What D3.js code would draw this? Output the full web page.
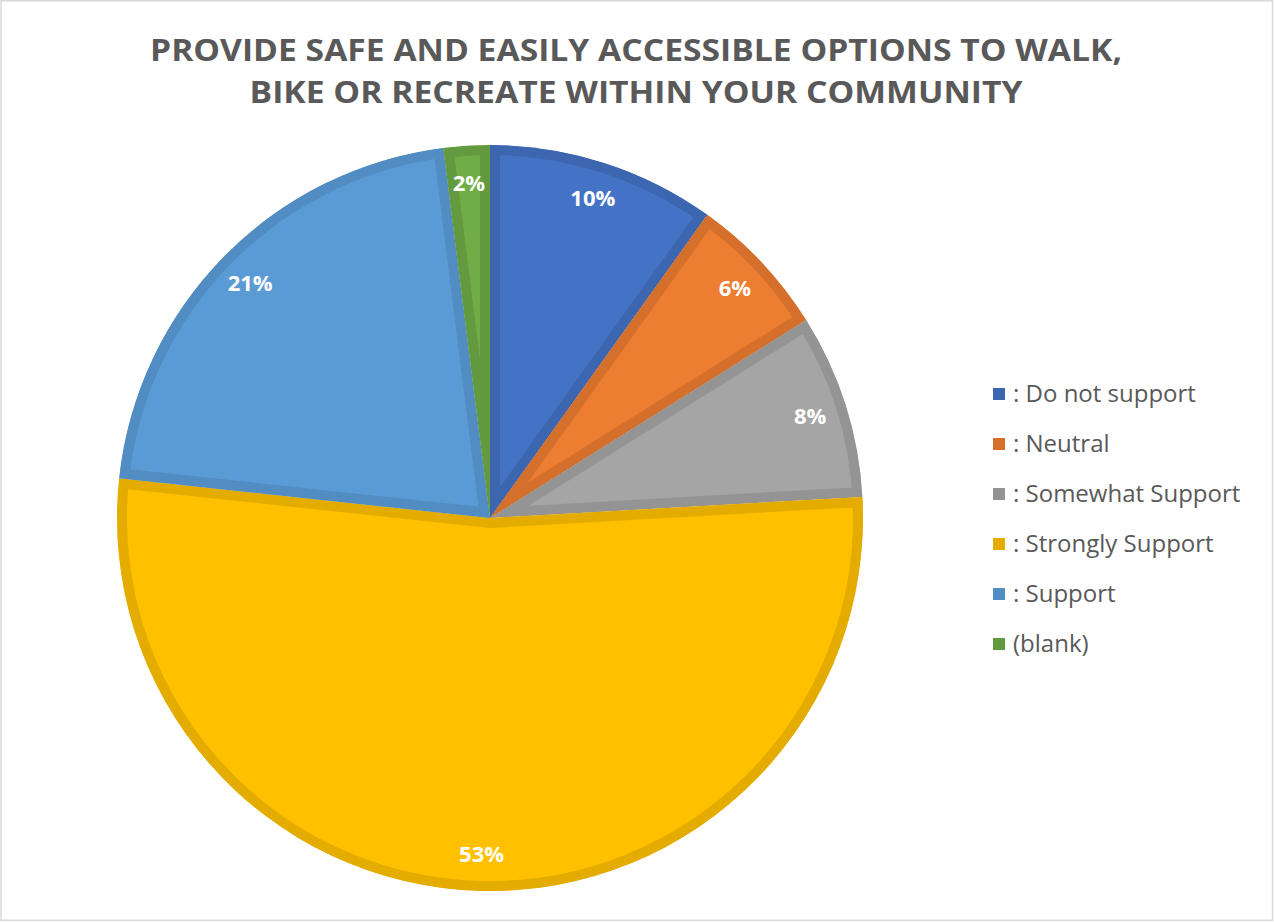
<!DOCTYPE html>
<html><head><meta charset="utf-8">
<script src="https://cdn.jsdelivr.net/npm/d3@7"></script>
<style>body{margin:0;background:#fff;}svg{display:block;}</style>
</head><body>
<svg id="chart" width="1274" height="922"></svg>
<script>
const titleLines = ["PROVIDE SAFE AND EASILY ACCESSIBLE OPTIONS TO WALK,", "BIKE OR RECREATE WITHIN YOUR COMMUNITY"];
const categories = [": Do not support", ": Neutral", ": Somewhat Support", ": Strongly Support", ": Support", "(blank)"];
const values = [9.9, 6.2, 8.0, 52.6, 21.3, 2.0];
const labels = ["10%", "6%", "8%", "53%", "21%", "2%"];
const fills = ["#4472C4", "#ED7D31", "#A5A5A5", "#FFC000", "#5B9BD5", "#70AD47"];
const borders = ["#3D66B1", "#D4702C", "#949494", "#E5AC00", "#518CC2", "#63993F"];

const svg = d3.select("#chart");
svg.append("rect").attr("x",1).attr("y",0.75).attr("width",1271.5).attr("height",919.5)
  .attr("fill","#fff").attr("stroke","#d9d9d9").attr("stroke-width",1.5);

const title = svg.append("text").attr("text-anchor","middle")
  .attr("font-family","'Open Sans', sans-serif").attr("font-weight","bold")
  .attr("font-size",30).attr("fill","#595959");
const titleW = [972, 773];
titleLines.forEach((t,i)=>{
  title.append("tspan").attr("x",636).attr("y",61+i*42).attr("textLength",titleW[i])
    .attr("lengthAdjust","spacingAndGlyphs").text(t);
});

const cx = 490, cy = 518, r = 373;
const pie = d3.pie().sort(null).value(d=>d)(values);
const arc = d3.arc().innerRadius(0).outerRadius(r);
const g = svg.append("g").attr("transform",`translate(${cx},${cy})`);
const defs = svg.append("defs");
pie.forEach((p,i)=>{
  defs.append("clipPath").attr("id","clip"+i).append("path").attr("d",arc(p));
});
g.selectAll("path.slice").data(pie).join("path").attr("class","slice")
  .attr("d",arc).attr("fill",(d,i)=>fills[i]).attr("stroke",(d,i)=>borders[i])
  .attr("stroke-width",20).attr("stroke-linejoin","miter")
  .attr("clip-path",(d,i)=>`url(#clip${i})`);

const labelArc = d3.arc().innerRadius(336).outerRadius(336);
g.selectAll("text.lbl").data(pie).join("text").attr("class","lbl")
  .attr("transform",d=>`translate(${labelArc.centroid(d)})`)
  .attr("text-anchor","middle").attr("dy","0.36em")
  .attr("font-family","'Open Sans', sans-serif").attr("font-weight","bold")
  .attr("font-size",22).attr("fill","#fff").text((d,i)=>labels[i]);

const leg = svg.append("g").attr("transform","translate(993,394)");
categories.forEach((c,i)=>{
  const row = leg.append("g").attr("transform",`translate(0,${i*50})`);
  row.append("rect").attr("x",0).attr("y",-6).attr("width",12).attr("height",12).attr("fill",borders[i]);
  row.append("text").attr("x",20).attr("y",0).attr("dy","0.35em")
    .attr("font-family","'Open Sans', sans-serif").attr("font-size",24).attr("fill","#595959").text(c);
});
</script>
</body></html>
